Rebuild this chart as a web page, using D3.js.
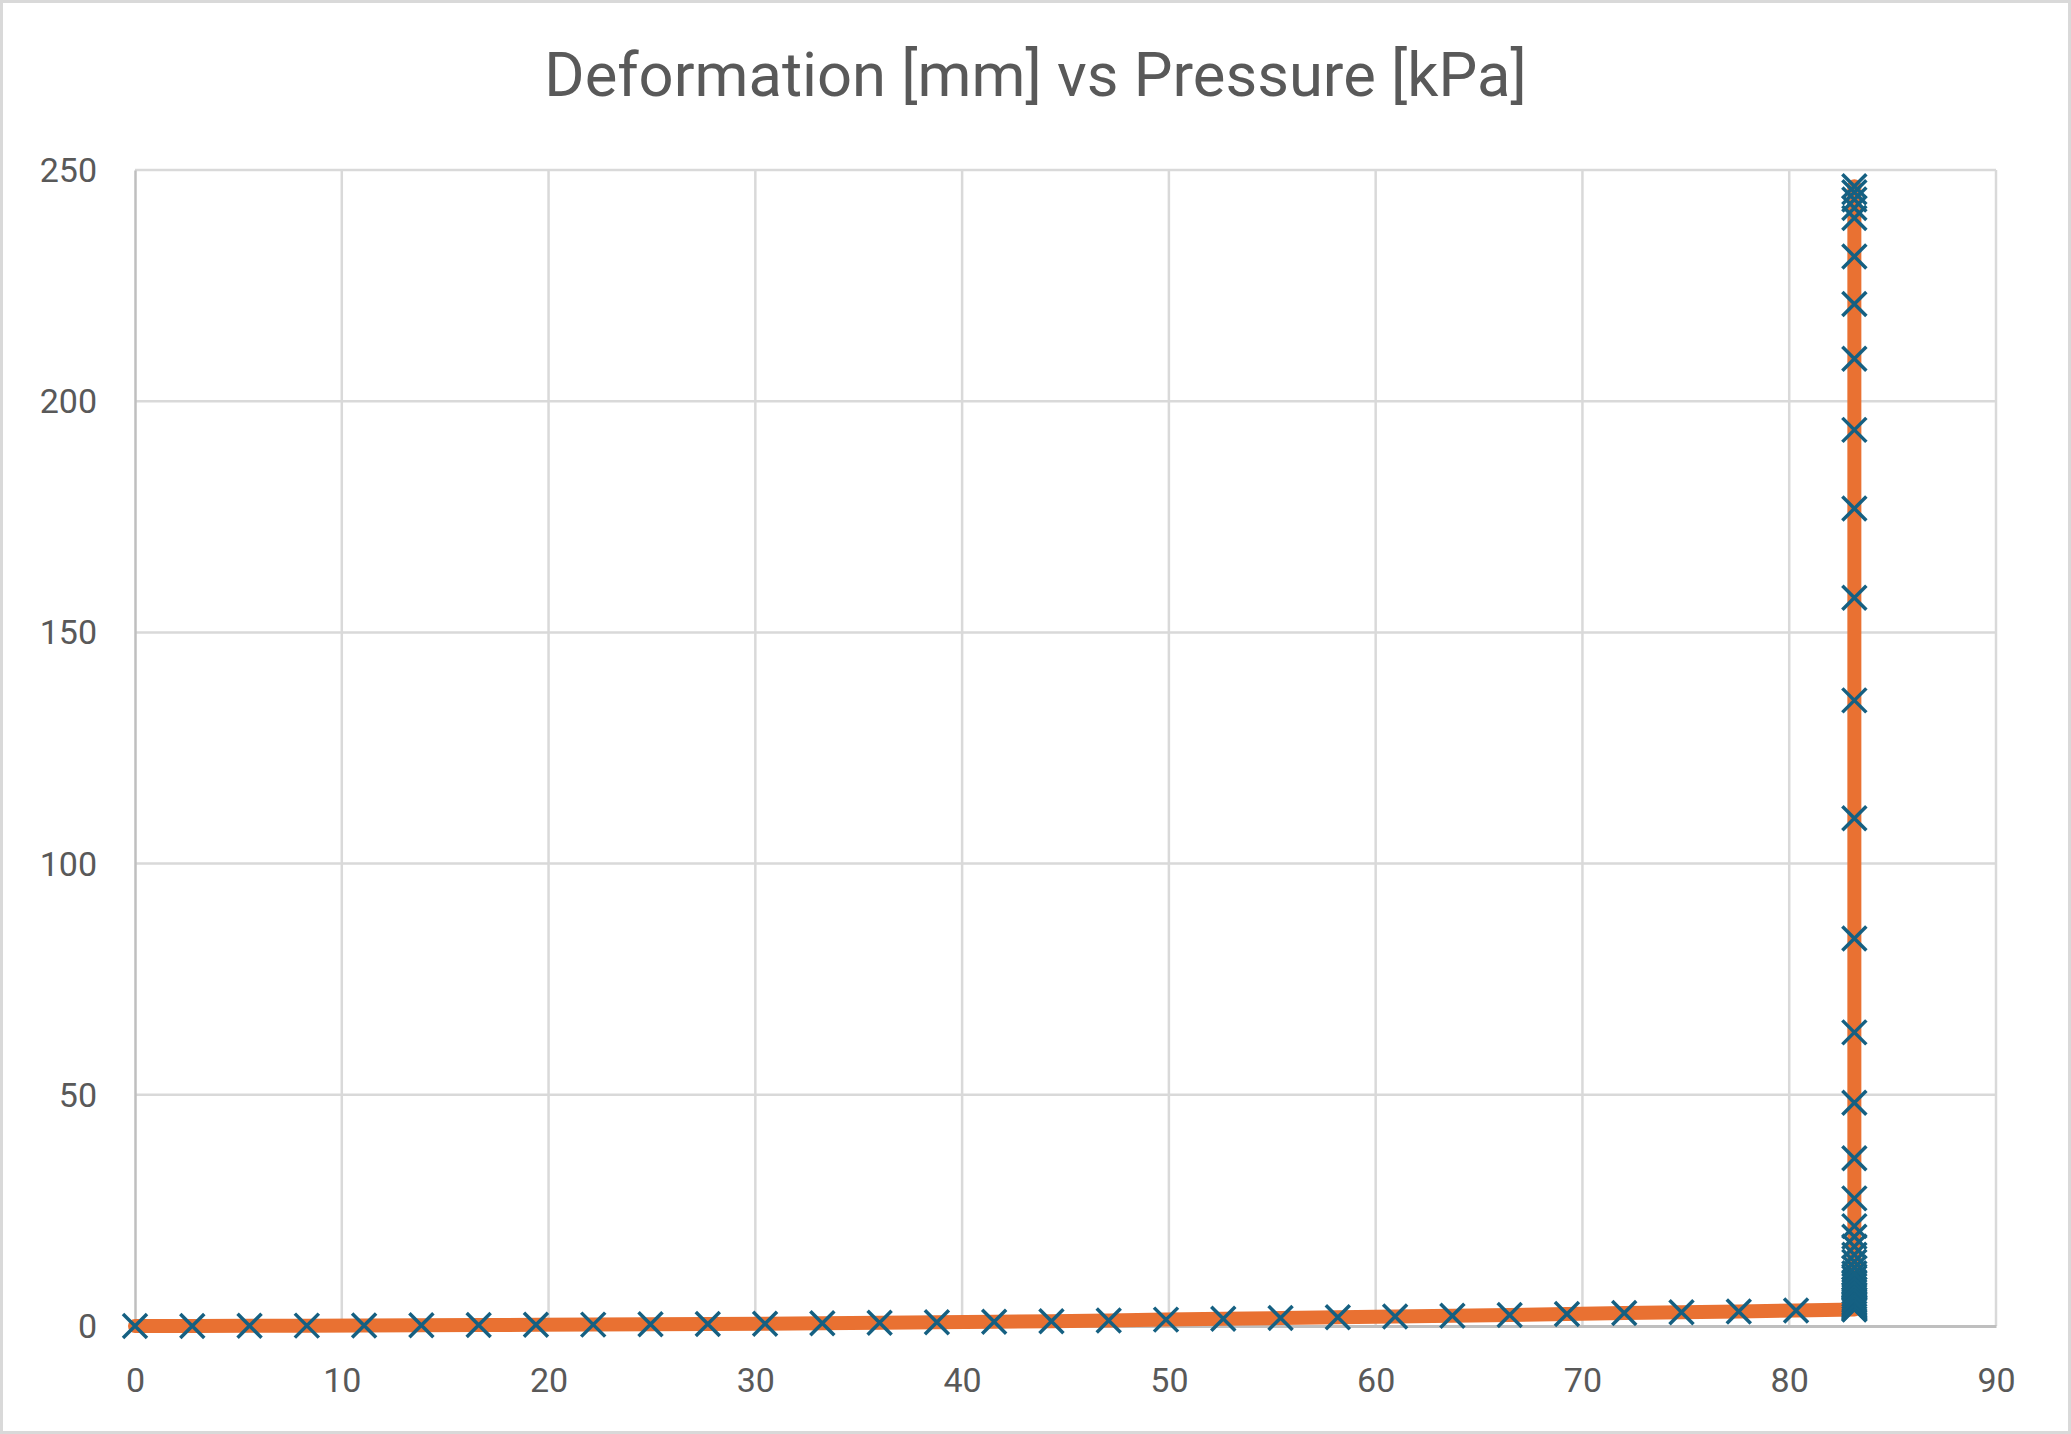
<!DOCTYPE html>
<html>
<head>
<meta charset="utf-8">
<script src="https://cdn.jsdelivr.net/npm/d3@7"></script>
<style>
  body { margin: 0; background: #fff; }
  text { font-family: Roboto, "Noto Sans", sans-serif; }
</style>
</head>
<body>
<div id="chart"></div>
<script>
// pressure [kPa] along the run, deformation [mm] at each step
var pressureKPa = [
  0, 2.77, 5.54, 8.31, 11.08, 13.85, 16.62, 19.39, 22.16, 24.93,
  27.7, 30.47, 33.24, 36.01, 38.78, 41.55, 44.32, 47.09, 49.86, 52.63,
  55.4, 58.17, 60.94, 63.71, 66.48, 69.25, 72.02, 74.79, 77.56, 80.33,
  83.15, 83.15, 83.15, 83.15, 83.15, 83.15, 83.15, 83.15, 83.15, 83.15,
  83.15, 83.15, 83.15, 83.15, 83.15, 83.15, 83.15, 83.15, 83.15, 83.15,
  83.15, 83.15, 83.15, 83.15, 83.15, 83.15, 83.15, 83.15, 83.15, 83.15,
  83.15, 83.15, 83.15, 83.15, 83.15, 83.15, 83.15, 83.15, 83.15, 83.15,
  83.15
];
var deformationMm = [
  0, 0.02, 0.05, 0.08, 0.12, 0.16, 0.2, 0.25, 0.3, 0.36,
  0.43, 0.5, 0.58, 0.68, 0.8, 0.92, 1.05, 1.2, 1.38, 1.55,
  1.72, 1.9, 2.05, 2.2, 2.4, 2.6, 2.8, 2.98, 3.15, 3.35,
  3.55, 3.7, 3.9, 4.1, 4.4, 4.7, 5.0, 5.4, 5.8, 6.3,
  6.8, 7.4, 8.0, 8.7, 9.5, 10.4, 11.4, 12.6, 13.9, 15.4,
  17.2, 19.3, 21.6, 27.6, 36.3, 48.3, 63.5, 83.8, 109.8, 135.3,
  157.5, 176.8, 193.8, 209.2, 221.0, 231.3, 239.6, 241.8, 243.6, 245.2,
  246.5
];

var xTicks = [0, 10, 20, 30, 40, 50, 60, 70, 80, 90];
var yTicks = [0, 50, 100, 150, 200, 250];

var chartTitle = "Deformation [mm] vs Pressure [kPa]";

var W = 2071, H = 1434;
var margin = {top: 170, right: 75, bottom: 108, left: 135};
var width = W - margin.left - margin.right,
    height = H - margin.top - margin.bottom;

var svg = d3.select("#chart").append("svg")
    .attr("width", W)
    .attr("height", H);

svg.append("rect")
    .attr("x", 1.5).attr("y", 1.5)
    .attr("width", W - 3).attr("height", H - 3)
    .attr("fill", "#fff")
    .attr("stroke", "#d9d9d9")
    .attr("stroke-width", 3);

svg.append("text")
    .attr("x", W / 2)
    .attr("y", 96)
    .attr("text-anchor", "middle")
    .attr("font-size", "61.5px")
    .attr("fill", "#595959")
    .text(chartTitle);

var g = svg.append("g")
    .attr("transform", "translate(" + margin.left + "," + margin.top + ")");

var x = d3.scaleLinear().domain([0, 90]).range([0, width]);
var y = d3.scaleLinear().domain([0, 250]).range([height, 0]);

// gridlines
g.append("g").selectAll("line.hgrid")
    .data(yTicks.filter(function(d) { return d > 0; }))
  .enter().append("line")
    .attr("x1", 0).attr("x2", width)
    .attr("y1", function(d) { return y(d); })
    .attr("y2", function(d) { return y(d); })
    .attr("stroke", "#d9d9d9")
    .attr("stroke-width", 2.5);

g.append("g").selectAll("line.vgrid")
    .data(xTicks.filter(function(d) { return d > 0; }))
  .enter().append("line")
    .attr("x1", function(d) { return x(d); })
    .attr("x2", function(d) { return x(d); })
    .attr("y1", 0).attr("y2", height)
    .attr("stroke", "#d9d9d9")
    .attr("stroke-width", 2.5);

// axes
var xAxis = g.append("g")
    .attr("transform", "translate(0," + height + ")")
    .call(d3.axisBottom(x).tickValues(xTicks).tickSize(0));
xAxis.select(".domain").attr("stroke", "#bfbfbf").attr("stroke-width", 3);
xAxis.selectAll("text")
    .attr("y", 66).attr("dy", null)
    .attr("font-size", "34px")
    .attr("fill", "#595959");

var yAxis = g.append("g")
    .call(d3.axisLeft(y).tickValues(yTicks).tickSize(0));
yAxis.select(".domain").attr("stroke", "#bfbfbf").attr("stroke-width", 2.5);
yAxis.selectAll("text")
    .attr("x", -38)
    .attr("dy", "0.34em")
    .attr("font-size", "34px")
    .attr("fill", "#595959");
xAxis.raise();

var pts = pressureKPa.map(function(p, i) { return [p, deformationMm[i]]; });

var line = d3.line()
    .x(function(d) { return x(d[0]); })
    .y(function(d) { return y(d[1]); });

g.append("path")
    .datum(pts)
    .attr("d", line)
    .attr("fill", "none")
    .attr("stroke", "#E97132")
    .attr("stroke-width", 14)
    .attr("stroke-linecap", "round")
    .attr("stroke-linejoin", "round");

// X markers
var m = 12;
g.append("g").selectAll("path.marker")
    .data(pts)
  .enter().append("path")
    .attr("class", "marker")
    .attr("transform", function(d) { return "translate(" + x(d[0]) + "," + y(d[1]) + ")"; })
    .attr("d", "M" + (-m) + "," + (-m) + "L" + m + "," + m + "M" + (-m) + "," + m + "L" + m + "," + (-m))
    .attr("fill", "none")
    .attr("stroke", "#156082")
    .attr("stroke-width", 3.5);
</script>
</body>
</html>
